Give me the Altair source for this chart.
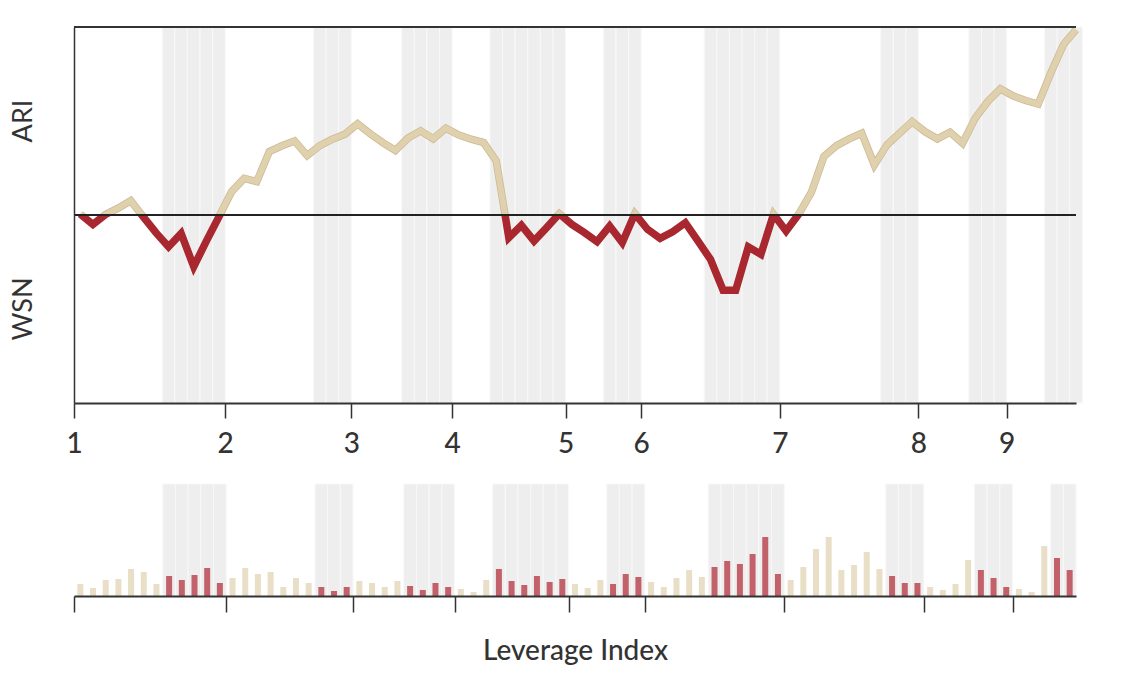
import altair as alt
import pandas as pd

# ---- data ----
line_values = [
    0.5, -5.0, 0.3, 3.6, 7.6, -1.0, -9.4, -16.9, -9.8, -27.5,
    -13.9, -0.9, 12.4, 19.5, 17.8, 33.7, 36.8, 39.4, 31.6, 36.9,
    40.3, 43.0, 48.5, 43.2, 38.5, 34.3, 40.9, 44.8, 40.5, 46.2,
    42.6, 40.3, 38.5, 28.8, -12.1, -5.5, -13.8, -6.7, 0.7, -5.0,
    -9.4, -14.2, -5.9, -14.7, 0.7, -7.6, -12.4, -8.9, -4.1, -13.8,
    -23.6, -40.0, -40.0, -17.0, -20.9, 0.4, -8.5, 0.5, 12.0, 31.1,
    36.9, 40.5, 43.5, 26.6, 37.3, 43.5, 49.7, 44.4, 40.5, 44.0,
    38.2, 51.5, 60.4, 67.1, 63.4, 60.9, 59.0, 75.5, 90.6, 98.6,
]
bar_values = [
    12, 8, 16, 17, 27, 24, 12, 20, 16, 21,
    28, 13, 18, 28, 22, 24, 9, 18, 13, 9,
    5, 9, 15, 13, 9, 15, 10, 6, 13, 9,
    7, 4, 16, 27, 15, 11, 20, 14, 17, 12,
    8, 16, 12, 22, 19, 14, 9, 18, 26, 19,
    29, 35, 32, 42, 59, 22, 16, 29, 47, 59,
    26, 31, 44, 27, 20, 13, 13, 9, 6, 12,
    36, 26, 18, 9, 7, 4, 50, 38, 26,
]
shade_starts = [7, 19, 26, 33, 42, 50, 64, 71, 77]
shade_ends = [12, 22, 30, 39, 45, 56, 67, 74, 80]
tick_index = [0, 12, 22, 30, 39, 45, 56, 67, 74]
tick_labels = ["1", "2", "3", "4", "5", "6", "7", "8", "9"]
side_labels = ["ARI", "WSN"]
x_title = "Leverage Index"

# ---- styling ----
FONT = "Lato"
AX = "#333333"
BEIGE = "#dfd1ae"
BEIGE_EDGE = "#cdb88f"
RED = "#a9272f"
BAR_BEIGE = "#e8dfc6"
BAR_RED = "#c2616a"
SHADE = "#eeeeee"
W = 1002
H_TOP = 376
H_BOT = 112
N_TOP = len(line_values)
N_BOT = len(bar_values)
TEXT_X = -50
LEFT_EXTENT = -64

# ---- tables ----
line_df = pd.DataFrame({"i": list(range(N_TOP)), "v": line_values})
one_row = pd.DataFrame({"k": [0]})

shaded = set()
for s, e in zip(shade_starts, shade_ends):
    shaded.update(range(s, e))
shade_top = pd.DataFrame({"i": sorted(k for k in shaded if k < N_TOP)})
shade_bot = pd.DataFrame({"i": sorted(k for k in shaded if k < N_BOT)})

bar_df = pd.DataFrame({
    "i": list(range(N_BOT)),
    "v": bar_values,
    "regime": ["stress" if k in shaded else "calm" for k in range(N_BOT)],
})

vmax = max(line_values)
vmin = min(line_values)
off = vmax / (vmax - vmin)


def grad(top_color, bottom_color):
    return alt.Gradient(
        gradient="linear", x1=0, y1=0, x2=0, y2=1,
        stops=[
            alt.GradientStop(color=top_color, offset=0),
            alt.GradientStop(color=top_color, offset=off),
            alt.GradientStop(color=bottom_color, offset=off),
            alt.GradientStop(color=bottom_color, offset=1),
        ],
    )


label_expr = "[" + ",".join(f"'{t}'" for t in tick_labels) + "][indexof([" + \
    ",".join(str(t) for t in tick_index) + "], datum.value)]"

x_top_scale = alt.Scale(domain=[0, N_TOP - 0.5], nice=False, zero=False, padding=0)
y_top_scale = alt.Scale(domain=[-100, 100], nice=False)

x_top_axis = alt.Axis(
    values=tick_index, labelExpr=label_expr, title=None, grid=False,
    ticks=True, domain=True, zindex=1,
    domainColor=AX, domainWidth=2, tickColor=AX, tickWidth=1.5, tickSize=15,
    labelFont=FONT, labelFontSize=28, labelColor=AX, labelPadding=12,
    labelFontWeight=500, labelFlush=False,
)
y_top_axis = alt.Axis(
    title=None, labels=False, ticks=False, grid=False, zindex=1,
    domainColor=AX, domainWidth=1.5,
)

shade_t = alt.Chart(shade_top).transform_calculate(i2="datum.i + 1").mark_rect(
    fill=SHADE, stroke="#f8f8f8", strokeWidth=1
).encode(
    x=alt.X("i:Q", scale=x_top_scale, axis=x_top_axis),
    x2="i2:Q",
    y=alt.value(0),
    y2=alt.value(H_TOP),
)

line_pos = dict(
    x=alt.X("xc:Q", scale=x_top_scale, axis=x_top_axis),
    y=alt.Y("v:Q", scale=y_top_scale, axis=y_top_axis),
)
line_under = alt.Chart(line_df).transform_calculate(xc="datum.i + 0.5").mark_line(
    stroke=grad(BEIGE_EDGE, RED), strokeWidth=7.5, strokeJoin="miter", strokeCap="butt"
).encode(**line_pos)
line_main = alt.Chart(line_df).transform_calculate(xc="datum.i + 0.5").mark_line(
    stroke=grad(BEIGE, RED), strokeWidth=6, strokeJoin="miter", strokeCap="butt"
).encode(**line_pos)

zero_rule = alt.Chart(one_row).mark_rule(color="#222222", strokeWidth=2).encode(
    y=alt.datum(0), x=alt.value(0), x2=alt.value(W)
)
top_rule = alt.Chart(one_row).mark_rule(color=AX, strokeWidth=2).encode(
    y=alt.value(0), x=alt.value(0), x2=alt.value(W)
)
txt_ari = alt.Chart(one_row).mark_text(
    text=side_labels[0], angle=270, font=FONT, fontSize=27, color=AX, baseline="middle"
).encode(x=alt.value(TEXT_X), y=alt.datum(50))
txt_wsn = alt.Chart(one_row).mark_text(
    text=side_labels[1], angle=270, font=FONT, fontSize=27, color=AX, baseline="middle"
).encode(x=alt.value(TEXT_X), y=alt.datum(-50))
edge_top = alt.Chart(one_row).mark_rule(opacity=0).encode(
    x=alt.value(LEFT_EXTENT), y=alt.value(H_TOP / 2), y2=alt.value(H_TOP / 2 + 1)
)

top = alt.layer(
    shade_t, line_under, line_main, zero_rule, top_rule, txt_ari, txt_wsn, edge_top
).properties(width=W, height=H_TOP)

# ---- bottom panel ----
x_bot_scale = alt.Scale(domain=[0, N_BOT], nice=False, zero=False, padding=0)
x_bot_axis = alt.Axis(
    values=tick_index, labels=False, grid=False, title=x_title, zindex=1,
    domainColor=AX, domainWidth=2, tickColor=AX, tickWidth=1.5, tickSize=16,
    titleFont=FONT, titleFontSize=28, titleColor=AX, titleFontWeight=500,
    titlePadding=25,
)
y_bot_axis = alt.Axis(
    title=None, labels=False, ticks=False, grid=False, zindex=1,
    domainOpacity=0, domainWidth=1.5,
)
shade_b = alt.Chart(shade_bot).transform_calculate(i2="datum.i + 1").mark_rect(
    fill=SHADE, stroke="#f8f8f8", strokeWidth=1
).encode(
    x=alt.X("i:Q", scale=x_bot_scale, axis=x_bot_axis),
    x2="i2:Q",
    y=alt.value(0),
    y2=alt.value(H_BOT),
)
bars = alt.Chart(bar_df).transform_calculate(xc="datum.i + 0.5").mark_bar(
    width=6
).encode(
    x=alt.X("xc:Q", scale=x_bot_scale, axis=x_bot_axis),
    y=alt.Y("v:Q", scale=alt.Scale(domain=[0, H_BOT], nice=False), axis=y_bot_axis),
    color=alt.Color("regime:N", scale=alt.Scale(domain=["calm", "stress"],
                                                range=[BAR_BEIGE, BAR_RED]), legend=None),
)
edge_bot = alt.Chart(one_row).mark_rule(opacity=0).encode(
    x=alt.value(LEFT_EXTENT), y=alt.value(H_BOT / 2), y2=alt.value(H_BOT / 2 + 1)
)
bottom = alt.layer(shade_b, bars, edge_bot).properties(width=W, height=H_BOT)

chart = alt.vconcat(top, bottom, spacing=25).properties(
    padding={"left": 2, "top": 6, "right": 5, "bottom": 5}
).configure_view(stroke=None)

chart.save("out.html", embed_options={"renderer": "svg", "actions": False})
